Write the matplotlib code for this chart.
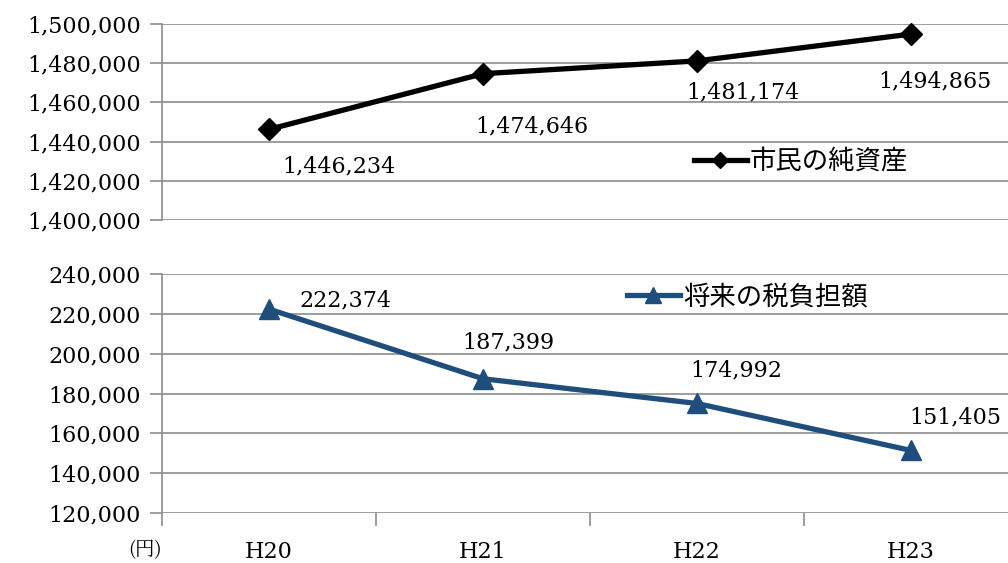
import matplotlib
matplotlib.use("Agg")
import matplotlib.pyplot as plt
from matplotlib.ticker import FuncFormatter

years = ["H20", "H21", "H22", "H23"]
net_assets = [1446234, 1474646, 1481174, 1494865]
future_tax = [222374, 187399, 174992, 151405]

net_label = "市民の純資産"
tax_label = "将来の税負担額"

# label offsets (points) relative to each marker
net_offsets = [(50, -27), (35, -38), (33, -23), (17, -34)]
tax_offsets = [(55, 6), (18, 26), (28, 24), (32, 24)]

NUM_FONT = "DejaVu Serif"
JP_FONT = ["Noto Sans CJK JP", "DejaVu Sans"]
GRID = "#8c8c8c"
BLUE = "#1f4e7d"

W, H = 1008, 563
fig = plt.figure(figsize=(W / 100, H / 100), dpi=100)


def px_axes(left, top, right, bottom):
    return fig.add_axes([left / W, 1 - bottom / H, (right - left) / W, (bottom - top) / H])


ax_top = px_axes(162, 24, 1018, 220)
ax_bot = px_axes(162, 274, 1018, 513)

fmt = FuncFormatter(lambda v, _: f"{int(v):,}")
x = list(range(len(years)))

for ax, lo, hi, step in [(ax_top, 1400000, 1500000, 20000),
                         (ax_bot, 120000, 240000, 20000)]:
    ax.set_xlim(-0.5, 3.5)
    ax.set_ylim(lo, hi)
    ax.set_yticks(range(lo, hi + 1, step))
    ax.yaxis.set_major_formatter(fmt)
    ax.grid(axis="y", color=GRID, lw=1.2)
    ax.set_axisbelow(True)
    for s in ("top", "right", "bottom"):
        ax.spines[s].set_visible(False)
    ax.spines["left"].set_color(GRID)
    ax.spines["left"].set_linewidth(1.2)
    ax.tick_params(axis="y", length=9, width=1.2, color=GRID, pad=6,
                   labelsize=16)
    for t in ax.get_yticklabels():
        t.set_fontfamily(NUM_FONT)

ax_top.set_xticks([])

# bottom axis: ticks between categories, labels at category centres
ax_bot.set_xticks([-0.5, 0.5, 1.5, 2.5])
ax_bot.set_xticks(x, minor=True)
ax_bot.set_xticklabels([], minor=False)
ax_bot.set_xticklabels(years, minor=True, fontfamily=NUM_FONT, fontsize=16)
ax_bot.tick_params(axis="x", which="major", length=9, width=1.2, color=GRID)
ax_bot.tick_params(axis="x", which="minor", length=0, pad=20)

ax_top.plot(x, net_assets, color="black", lw=3.8, marker="D", ms=11.5,
            label=net_label, clip_on=False, zorder=3)
ax_bot.plot(x, future_tax, color=BLUE, lw=3.8, marker="^", ms=15,
            label=tax_label, clip_on=False, zorder=3)

for xi, v, off in zip(x, net_assets, net_offsets):
    ax_top.annotate(f"{v:,}", (xi, v), xytext=off, textcoords="offset points",
                    ha="center", va="center", fontsize=16, fontfamily=NUM_FONT)
for xi, v, off in zip(x, future_tax, tax_offsets):
    ax_bot.annotate(f"{v:,}", (xi, v), xytext=off, textcoords="offset points",
                    ha="center", va="center", fontsize=16, fontfamily=NUM_FONT)

leg_kw = dict(frameon=False, handlelength=2.0, handletextpad=0.12,
              markerscale=0.75, borderaxespad=0, borderpad=0,
              prop={"family": JP_FONT, "size": 19})
ax_top.legend(loc="center left", bbox_to_anchor=((694 - 162) / 856, (220 - 162) / 196), **leg_kw)
ax_bot.legend(loc="center left", bbox_to_anchor=((627 - 162) / 856, (513 - 297) / 239), **leg_kw)

fig.text(145 / W, 1 - 550 / H, "(円)", ha="center", va="center", fontsize=14,
         family=["Noto Serif CJK JP", "Noto Sans CJK JP", "DejaVu Serif"])

fig.savefig("out.png", dpi=100)
